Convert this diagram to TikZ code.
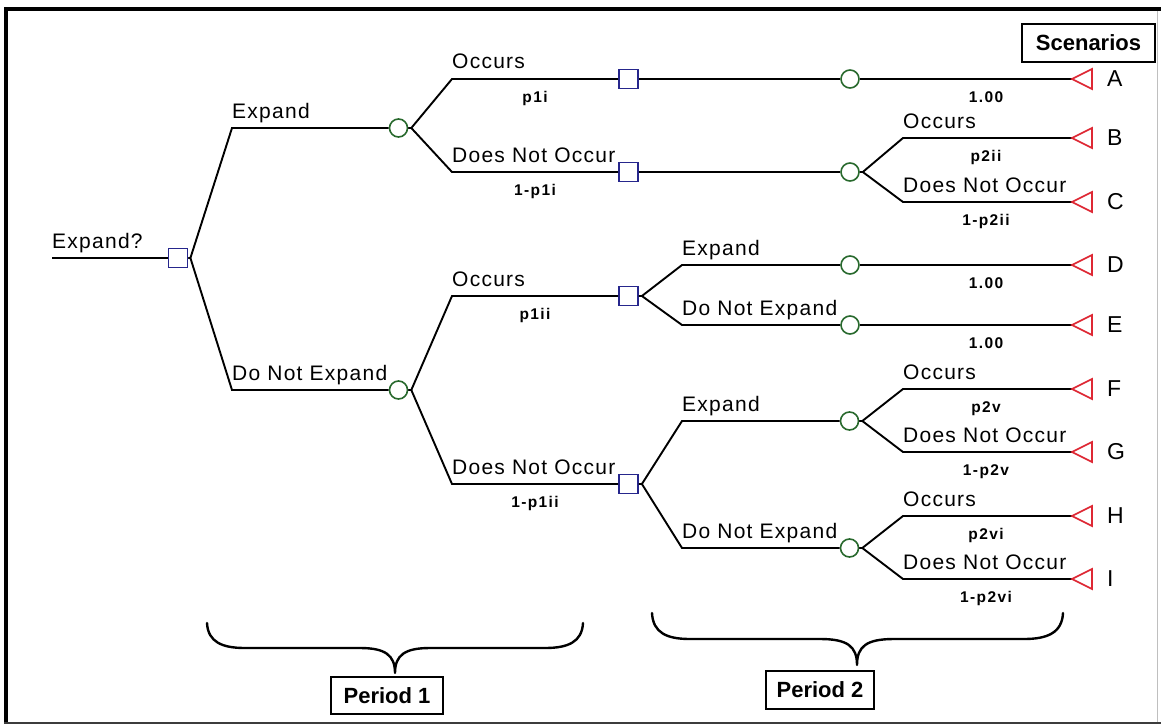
\documentclass[tikz,border=0pt]{standalone}
\usepackage{fontspec}
\setmainfont{Liberation Sans}
\newfontfamily\branchfont[LetterSpace=6]{Liberation Sans}
\newfontfamily\probfont[LetterSpace=9]{Liberation Sans}
\definecolor{decblue}{RGB}{38,38,140}
\definecolor{chgreen}{RGB}{40,105,45}
\definecolor{termred}{RGB}{222,40,52}
\definecolor{framegray}{RGB}{60,60,60}
\begin{document}
\begin{tikzpicture}[x=1pt,y=-1pt,
  conn/.style={line width=1.9pt, black},
  decnode/.style={rectangle, draw=decblue, line width=1.8pt, minimum size=19pt, inner sep=0pt},
  chnode/.style={circle, draw=chgreen, line width=1.6pt, minimum size=18pt, inner sep=0pt},
  termtri/.style={draw=termred, line width=1.7pt, line join=miter},
  blab/.style={font=\branchfont\fontsize{21}{24}\selectfont, inner sep=0pt, anchor=base west},
  plab/.style={font=\probfont\bfseries\fontsize{15.5}{17}\selectfont, inner sep=0pt, anchor=base},
  leaf/.style={font=\fontsize{23}{26}\selectfont, inner sep=0pt, anchor=west},
  titlebox/.style={draw, line width=1.8pt, font=\bfseries\fontsize{22}{25}\selectfont, inner sep=0pt},
  brace/.style={line width=2.4pt, line cap=round, line join=round}]

\useasboundingbox (0,0) rectangle (1161,725);

% frame
\draw[line width=4pt] (6,9.5) -- (1161,9.5);
\draw[line width=4pt] (6,7.5) -- (6,723);
\draw[line width=2pt, framegray] (4,723) -- (1161,723);
\draw[line width=1pt, black!25] (1157.5,11) -- (1157.5,722);

% decision and chance nodes
\node[decnode] (root) at (178,258) {};
\node[chnode] (c1) at (398.5,128) {};
\node[chnode] (c2) at (398.5,390) {};
\node[decnode] (s1) at (628.5,79) {};
\node[decnode] (s2) at (628.5,172) {};
\node[decnode] (s3) at (628.5,296) {};
\node[decnode] (s4) at (628.5,484) {};
\node[chnode] (c3) at (850,79) {};
\node[chnode] (c4) at (850,172) {};
\node[chnode] (c5) at (850,265) {};
\node[chnode] (c6) at (850,325) {};
\node[chnode] (c7) at (849.5,421) {};
\node[chnode] (c8) at (849.5,548) {};

% end points (apex of each terminal triangle)
\coordinate (tA) at (1072,79);
\coordinate (tB) at (1072,138);
\coordinate (tC) at (1072,202);
\coordinate (tD) at (1072,265);
\coordinate (tE) at (1072,325);
\coordinate (tF) at (1072,389);
\coordinate (tG) at (1072,452);
\coordinate (tH) at (1072,516);
\coordinate (tI) at (1072,579);

% branch corners
\coordinate (start) at (52,258);
\coordinate (k1) at (232,128);
\coordinate (k2) at (232,390);
\coordinate (k3) at (452,79);
\coordinate (k4) at (452,172);
\coordinate (k5) at (452,296);
\coordinate (k6) at (452,484);
\coordinate (k7) at (682,265);
\coordinate (k8) at (682,325);
\coordinate (k9) at (682,421);
\coordinate (k10) at (682,548);
\coordinate (k11) at (903,138);
\coordinate (k12) at (903,202);
\coordinate (k13) at (903,389);
\coordinate (k14) at (903,452);
\coordinate (k15) at (903,516);
\coordinate (k16) at (903,579);

% connectors
\draw[conn] (start) -- (root);
\draw[conn] (root.east) -- ++(2,0) -- (k1) -- (c1);
\draw[conn] (root.east) -- ++(2,0) -- (k2) -- (c2);
\draw[conn] (c1.east) -- ++(3,0) -- (k3) -- (s1);
\draw[conn] (c1.east) -- ++(3,0) -- (k4) -- (s2);
\draw[conn] (c2.east) -- ++(3,0) -- (k5) -- (s3);
\draw[conn] (c2.east) -- ++(3,0) -- (k6) -- (s4);
\draw[conn] (s1) -- (c3);
\draw[conn] (c3) -- (tA);
\draw[conn] (s2) -- (c4);
\draw[conn] (c4.east) -- ++(3,0) -- (k11) -- (tB);
\draw[conn] (c4.east) -- ++(3,0) -- (k12) -- (tC);
\draw[conn] (s3.east) -- ++(3,0) -- (k7) -- (c5);
\draw[conn] (s3.east) -- ++(3,0) -- (k8) -- (c6);
\draw[conn] (c5) -- (tD);
\draw[conn] (c6) -- (tE);
\draw[conn] (s4.east) -- ++(3,0) -- (k9) -- (c7);
\draw[conn] (s4.east) -- ++(3,0) -- (k10) -- (c8);
\draw[conn] (c7.east) -- ++(3,0) -- (k13) -- (tF);
\draw[conn] (c7.east) -- ++(3,0) -- (k14) -- (tG);
\draw[conn] (c8.east) -- ++(3,0) -- (k15) -- (tH);
\draw[conn] (c8.east) -- ++(3,0) -- (k16) -- (tI);

% terminal triangles and scenario letters
\foreach \t in {A,B,C,D,E,F,G,H,I}{
  \draw[termtri] (t\t) -- ++(20,-10) -- ++(0,20) -- cycle;
  \node[leaf] (lab\t) at ([xshift=35pt]t\t) {\t};
}

% branch labels
\node[blab] (lq) at ([yshift=10pt]start) {Expand?};
\node[blab] (l1) at ([yshift=10pt]k1) {Expand};
\node[blab] (l2) at ([yshift=10pt]k2) {Do Not Expand};
\node[blab] (l3) at ([yshift=10pt]k3) {Occurs};
\node[blab] (l4) at ([yshift=10pt]k4) {Does Not Occur};
\node[blab] (l5) at ([yshift=10pt]k5) {Occurs};
\node[blab] (l6) at ([yshift=10pt]k6) {Does Not Occur};
\node[blab] (l7) at ([yshift=10pt]k7) {Expand};
\node[blab] (l8) at ([yshift=10pt]k8) {Do Not Expand};
\node[blab] (l9) at ([yshift=10pt]k9) {Expand};
\node[blab] (l10) at ([yshift=10pt]k10) {Do Not Expand};
\node[blab] (l11) at ([yshift=10pt]k11) {Occurs};
\node[blab] (l12) at ([yshift=10pt]k12) {Does Not Occur};
\node[blab] (l13) at ([yshift=10pt]k13) {Occurs};
\node[blab] (l14) at ([yshift=10pt]k14) {Does Not Occur};
\node[blab] (l15) at ([yshift=10pt]k15) {Occurs};
\node[blab] (l16) at ([yshift=10pt]k16) {Does Not Occur};

% probabilities
\node[plab] (p3) at (535,102) {p1i};
\node[plab] (p4) at (535,195) {1-p1i};
\node[plab] (p5) at (535,319) {p1ii};
\node[plab] (p6) at (535,507) {1-p1ii};
\node[plab] (pA) at (986,102) {1.00};
\node[plab] (p11) at (986,161) {p2ii};
\node[plab] (p12) at (986,225) {1-p2ii};
\node[plab] (pD) at (986,288) {1.00};
\node[plab] (pE) at (986,348) {1.00};
\node[plab] (p13) at (986,412) {p2v};
\node[plab] (p14) at (986,475) {1-p2v};
\node[plab] (p15) at (986,539) {p2vi};
\node[plab] (p16) at (986,602) {1-p2vi};

% titled boxes
\node[titlebox, minimum width=133pt, minimum height=38pt] (scen) at (1088.5,43) {Scenarios};
\node[titlebox, minimum width=112pt, minimum height=37pt] (per1) at (387,695.5) {Period 1};
\node[titlebox, minimum width=108pt, minimum height=38pt] (per2) at (820,690) {Period 2};

% period braces
\draw[brace] (207,623) .. controls (208,642) and (222,648) .. (245,648) -- (360,648)
  .. controls (385,648) and (395,655) .. (395,673)
  .. controls (395,655) and (405,648) .. (430,648) -- (545,648)
  .. controls (568,648) and (582,642) .. (583,623);
\draw[brace] (652,613) .. controls (653,633) and (667,639) .. (690,639) -- (820,639)
  .. controls (847,639) and (857,646) .. (857,665)
  .. controls (857,646) and (867,639) .. (894,639) -- (1024,639)
  .. controls (1047,639) and (1062,633) .. (1063,613);
\end{tikzpicture}
\end{document}
